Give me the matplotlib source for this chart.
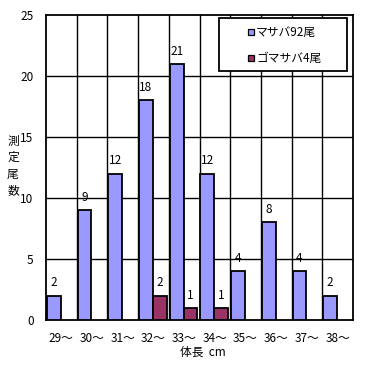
import numpy as np
import matplotlib.pyplot as plt
from matplotlib.patches import Rectangle

plt.rcParams['font.family'] = ['Noto Sans CJK JP', 'DejaVu Sans']

# data
categories = ['29～', '30～', '31～', '32～', '33～', '34～', '35～', '36～', '37～', '38～']
masaba = [2, 9, 12, 18, 21, 12, 4, 8, 4, 2]
gomasaba = [0, 0, 0, 2, 1, 1, 0, 0, 0, 0]
series_names = ['マサバ92尾', 'ゴマサバ4尾']
colors = ['#9999FF', '#993366']

W, H = 371, 365
fig = plt.figure(figsize=(W / 100, H / 100), dpi=100)
ax = fig.add_axes([46 / W, 1 - 320 / H, 307 / W, 305 / H])

fs = 8.5
x = np.arange(len(categories))
w = 0.45
ax.bar(x + 0.03, masaba, width=w, align='edge', color=colors[0],
       edgecolor='black', linewidth=1.3, zorder=3)
for i, v in enumerate(gomasaba):
    if v > 0:
        ax.bar(x[i] + 0.48, v, width=w, align='edge', color=colors[1],
               edgecolor='black', linewidth=1.3, zorder=3)

# value labels
for i, v in enumerate(masaba):
    ax.text(x[i] + 0.03 + w / 2, v + 0.5, str(v), ha='center', va='bottom', fontsize=fs)
for i, v in enumerate(gomasaba):
    if v > 0:
        ax.text(x[i] + 0.48 + w / 2, v + 0.5, str(v), ha='center', va='bottom', fontsize=fs)

ax.set_xlim(0, len(categories))
ax.set_ylim(0, 25)
ax.set_yticks([0, 5, 10, 15, 20, 25])
ax.set_xticks(x + 0.5)
ax.set_xticklabels(categories)
ax.tick_params(axis='both', length=0, labelsize=fs)
ax.tick_params(axis='y', pad=9)
ax.tick_params(axis='x', pad=9)

# grid: horizontal at major ticks, vertical at category borders
for yv in [5, 10, 15, 20]:
    ax.axhline(yv, color='black', linewidth=1, zorder=1)
for xv in range(1, len(categories)):
    ax.axvline(xv, color='black', linewidth=1, zorder=1)
for sp in ax.spines.values():
    sp.set_linewidth(1.3)

fig.text(203 / W, 1 - 352 / H, '体長  cm', fontsize=fs, ha='center', va='center')
fig.text(13 / W, 1 - 166 / H, '測\n定\n尾\n数', fontsize=fs, ha='center', va='center',
         linespacing=1.35)

# legend box drawn by hand to match the wide padding
fig.patches.append(Rectangle((219 / W, 1 - 71 / H), 128 / W, 53 / H, transform=fig.transFigure,
                             facecolor='white', edgecolor='black', linewidth=1.3, zorder=5))
for k, (name, c) in enumerate(zip(series_names, colors)):
    yy = 1 - (32 + 26 * k) / H
    fig.patches.append(Rectangle((248 / W, yy - 3 / H), 6 / W, 6 / H, transform=fig.transFigure,
                                 facecolor=c, edgecolor='black', linewidth=0.9, zorder=6))
    fig.text(256 / W, yy, name, fontsize=fs, ha='left', va='center', zorder=7)

fig.savefig('out.png', dpi=100)
